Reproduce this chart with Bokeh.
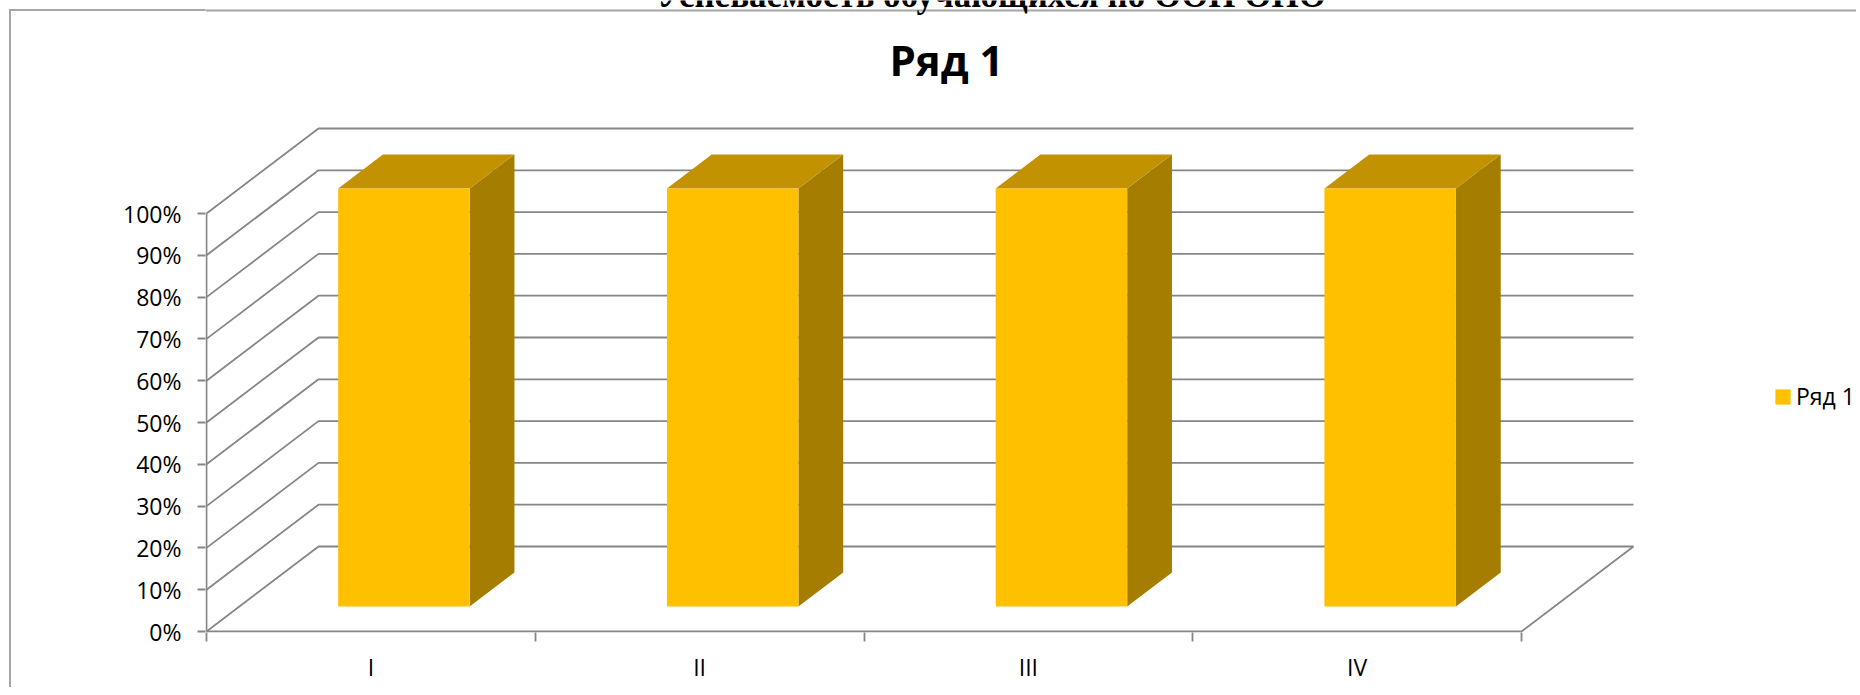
from bokeh.plotting import figure
from bokeh.models import (ColumnDataSource, Range1d, FixedTicker, NumeralTickFormatter,
                          LinearAxis, Legend, LegendItem, Label)
from bokeh.embed import file_html
from bokeh.resources import INLINE

# ---------------- data ----------------
categories = ["I", "II", "III", "IV"]
series_name = "Ряд 1"
values = [1.0, 1.0, 1.0, 1.0]
y_ticks = [0.0, 0.1, 0.2, 0.3, 0.4, 0.5, 0.6, 0.7, 0.8, 0.9, 1.0]
page_title = "Успеваемость обучающихся по ООП ОНО"

# ---------------- geometry / style ----------------
CAT_PX = 328.75          # px per category
UNIT_PX = 418.0          # px per 100 %
DX = 112 / CAT_PX        # depth offset (x, data units)
DY = 85 / UNIT_PX        # depth offset (y, data units)
D0, D1 = 0.295, 0.695    # bar depth span (fraction of full depth)
BW = 0.40                # bar width (fraction of category)
B = D1 - D0

W, H = 1856, 687
X0 = 206                 # canvas x of data x=0
Y0 = 631                 # canvas y of data y=0
FL = X0 - 1              # frame left (canvas px)

GRID = "#868686"
BORDER = "#A6A6A6"
FRONT = "#FFC000"
TOPC = "#C29200"
SIDE = "#A57D00"
FONT = "Open Sans"
LW = 1.8


def dx(px):  # canvas px -> data x
    return (px - X0) / CAT_PX


def dy(py):  # canvas py -> data y
    return (Y0 - py) / UNIT_PX


p = figure(width=W, height=H, output_backend="svg", toolbar_location=None,
           x_range=Range1d(dx(FL), dx(W)), y_range=Range1d(dy(Y0 + 1), dy(0)),
           x_axis_type=None, y_axis_type=None,
           min_border_left=FL, min_border_right=0, min_border_top=0,
           min_border_bottom=H - (Y0 + 1))
# left part of the chart-area border, painted behind the transparent side panels
p.styles = {
    "background-image": "linear-gradient(#A6A6A6, #A6A6A6), linear-gradient(#A6A6A6, #A6A6A6)",
    "background-position": "9px 9px, 9px 9px",
    "background-size": "100% 2px, 2px 100%",
    "background-repeat": "no-repeat, no-repeat",
}
p.xgrid.visible = False
p.ygrid.visible = False
p.outline_line_color = None
p.background_fill_color = "white"
p.border_fill_color = None

n = len(categories)

# top edge of the chart-area border inside the frame
p.multi_line(xs=[[dx(FL), dx(W)]], ys=[[dy(10), dy(10)]], line_color=BORDER, line_width=2)

# ---- walls / gridlines (pseudo-3D) ----
gx = [[0, DX, n + DX] for v in y_ticks]
gy = [[v, v + DY, v + DY] for v in y_ticks]
p.multi_line(xs=gx, ys=gy, line_color=GRID, line_width=LW)
# floor front edge + right edge, front vertical edge
p.multi_line(xs=[[0, n, n + DX], [0, 0]],
             ys=[[0, 0, DY], [0, y_ticks[-1]]],
             line_color=GRID, line_width=LW)

# ---- bars ----
centers = [i + 0.5 for i in range(n)]
left = [c - BW / 2 + D0 * DX for c in centers]
right = [c + BW / 2 + D0 * DX for c in centers]
bottom = [D0 * DY for _ in values]
top = [v + D0 * DY for v in values]

side_xs = [[r, r, r + B * DX, r + B * DX] for r in right]
side_ys = [[b, t, t + B * DY, b + B * DY] for b, t in zip(bottom, top)]
top_xs = [[l, r, r + B * DX, l + B * DX] for l, r in zip(left, right)]
top_ys = [[t, t, t + B * DY, t + B * DY] for t in top]

p.patches(xs=side_xs, ys=side_ys, fill_color=SIDE, line_color=None)
p.patches(xs=top_xs, ys=top_ys, fill_color=TOPC, line_color=None)
src = ColumnDataSource(dict(left=left, right=right, bottom=bottom, top=top, cat=categories))
front = p.quad(left="left", right="right", bottom="bottom", top="top", source=src,
               fill_color=FRONT, line_color=None)

# ---- axes ----
yaxis = LinearAxis(ticker=FixedTicker(ticks=y_ticks, minor_ticks=[]),
                   formatter=NumeralTickFormatter(format="0%"),
                   axis_line_color=None,
                   major_tick_out=8, major_tick_in=0,
                   major_tick_line_color=GRID, major_tick_line_width=LW,
                   minor_tick_line_color=None,
                   major_label_standoff=16,
                   major_label_text_font=FONT, major_label_text_font_size="23px",
                   major_label_text_color="#000000")
p.add_layout(yaxis, "left")

xaxis = LinearAxis(ticker=FixedTicker(ticks=centers, minor_ticks=list(range(n + 1))),
                   major_label_overrides={c: lab for c, lab in zip(centers, categories)},
                   axis_line_color=None,
                   major_tick_line_color=None, major_tick_out=0, major_tick_in=0,
                   minor_tick_out=9, minor_tick_in=0,
                   minor_tick_line_color=GRID, minor_tick_line_width=LW,
                   major_label_standoff=9,
                   major_label_text_font=FONT, major_label_text_font_size="23px",
                   major_label_text_color="#000000")
p.add_layout(xaxis, "below")

# ---- chart title ----
p.add_layout(Label(x=dx(946), y=dy(58.5), text=series_name,
                   text_align="center", text_baseline="alphabetic",
                   text_font=FONT, text_font_style="bold",
                   text_font_size="42px", text_color="#000000"))

# ---- legend ----
legend = Legend(items=[LegendItem(label=series_name, renderers=[front])],
                location=(1568, 220), orientation="vertical",
                border_line_color=None, background_fill_alpha=0,
                padding=0, margin=0, spacing=0,
                glyph_width=19, glyph_height=19, label_height=19, label_standoff=4,
                label_text_font=FONT, label_text_font_size="23px",
                label_text_color="#000000")
p.add_layout(legend)

# ---- document heading, cut off at the top edge as in the source ----
p.add_layout(Label(x=dx(991), y=dy(-5.0), text=page_title,
                   text_align="center", text_baseline="alphabetic",
                   text_font="Liberation Serif", text_font_style="bold",
                   text_font_size="35px", text_color="#000000"))

open("out.html", "w").write(file_html(p, INLINE))
